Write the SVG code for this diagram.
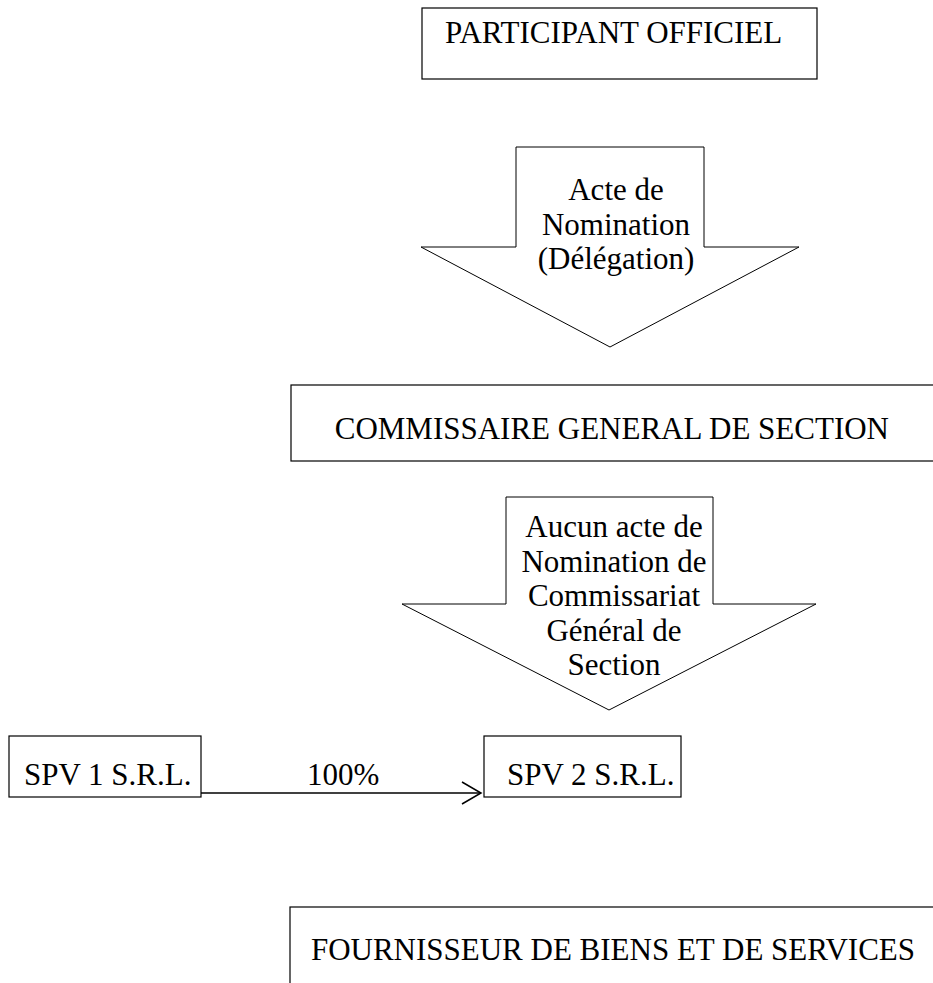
<svg xmlns="http://www.w3.org/2000/svg" width="933" height="983" viewBox="0 0 933 983">
<style>
.box{fill:#fff;stroke:#000;stroke-width:1.2}
.arr{fill:#fff;stroke:#000;stroke-width:1}
.t{font-family:"Liberation Serif","Times New Roman",serif;font-size:31px;fill:#000}
.c{text-anchor:middle}
.e{text-anchor:end}
.conn{fill:none;stroke:#000;stroke-width:1.5}
</style>
<rect width="933" height="983" fill="#fff"/>
<g id="participant">
<rect class="box" x="422" y="8" width="395" height="71"/>
<text class="t" x="445" y="43">PARTICIPANT OFFICIEL</text>
</g>
<g id="arrow1">
<polygon class="arr" points="516,147 704,147 704,247 799,247 610,347 421,247 516,247"/>
<text class="t c" x="616" y="200">Acte de</text>
<text class="t c" x="616" y="235">Nomination</text>
<text class="t c" x="616" y="269">(Délégation)</text>
</g>
<g id="commissaire">
<rect class="box" x="291" y="385" width="660" height="76"/>
<text class="t e" x="889" y="439">COMMISSAIRE GENERAL DE SECTION</text>
</g>
<g id="arrow2">
<polygon class="arr" points="506,497 713,497 713,604 816,604 609,710 402,604 506,604"/>
<text class="t c" x="614" y="537">Aucun acte de</text>
<text class="t c" x="614" y="571.5">Nomination de</text>
<text class="t c" x="614" y="606">Commissariat</text>
<text class="t c" x="614" y="640.5">Général de</text>
<text class="t c" x="614" y="675">Section</text>
</g>
<g id="spv1">
<rect class="box" x="9" y="736" width="192" height="61"/>
<text class="t" x="24" y="785">SPV 1 S.R.L.</text>
</g>
<g id="spv2">
<rect class="box" x="484" y="736" width="197" height="61"/>
<text class="t" x="507" y="785">SPV 2 S.R.L.</text>
</g>
<g id="connectors">
<line class="conn" x1="201" y1="793" x2="480" y2="793"/>
<polyline class="conn" points="462,782 481,793 462,804"/>
<text class="t" x="307" y="785">100%</text>
</g>
<g id="fournisseur">
<rect class="box" x="290" y="907" width="700" height="120"/>
<text class="t e" x="915" y="960">FOURNISSEUR DE BIENS ET DE SERVICES</text>
</g>
</svg>
